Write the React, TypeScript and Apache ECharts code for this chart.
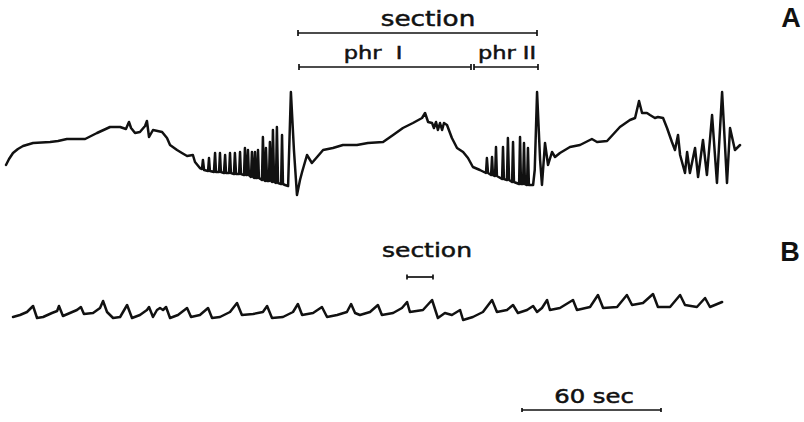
import React, { useEffect, useRef } from "react";
import * as echarts from "echarts";

// Trace A: [time (s), deflection (arbitrary units)]
const traceA: number[][] = [
  [0, 35], [1.3, 41], [3.0, 47], [5.1, 51], [7.3, 54], [11.6, 57], [18.9, 58], [22.3, 59],
  [26.1, 61], [33.9, 61], [39.0, 67], [44.6, 73], [48.9, 73], [51.4, 71], [52.7, 78], [53.6, 72],
  [55.3, 67], [57.4, 68], [59.6, 74], [60.4, 79], [61.3, 63], [63.0, 70], [66.9, 68], [69.0, 62],
  [70.3, 55], [73.3, 50], [75.4, 47], [77.6, 44], [80.1, 45], [81.0, 38], [83.1, 32],
  [84.0, 31], [84.4, 40], [84.9, 30], [86.6, 29], [87.0, 42], [87.4, 29],
  // first burst
  [89.1, 28], [89.6, 47], [90.0, 28], [91.3, 28], [91.7, 47], [92.1, 28], [93.4, 27], [93.9, 45],
  [94.3, 27], [95.6, 27], [96.0, 47], [96.4, 27], [97.7, 26], [98.1, 47], [98.6, 26], [99.9, 26],
  [100.3, 48], [100.7, 26], [102.0, 25], [102.4, 52], [102.9, 25], [103.3, 25], [103.7, 50], [104.1, 25],
  [105.0, 23], [105.4, 48], [105.9, 23], [106.3, 22], [106.7, 48], [107.1, 22], [107.6, 22], [108.0, 50],
  [108.4, 22], [109.7, 20], [110.1, 63], [110.6, 20], [111.0, 19], [111.4, 52], [111.9, 19], [112.7, 19],
  [113.1, 58], [113.6, 19], [114.0, 18], [114.4, 70], [114.9, 18], [115.7, 17], [116.1, 73], [116.6, 17],
  [117.9, 16], [118.3, 65], [118.7, 16], [119.6, 15], [120.9, 14], [122.1, 108], [123.4, 50], [124.7, 5],
  [126.0, 20], [126.9, 28], [129.0, 45], [131.1, 37], [133.7, 44], [135.9, 50], [140.1, 52], [144.4, 55],
  [150.4, 55], [155.1, 57], [161.6, 58], [165.9, 65], [170.1, 72], [174.4, 77], [178.3, 82], [179.6, 87],
  [180.9, 78], [182.6, 77], [183.4, 72], [184.3, 78], [185.1, 70], [186.0, 77], [186.9, 70], [187.7, 77],
  [189.0, 75], [191.1, 62], [193.3, 52], [195.9, 48], [198.0, 42], [200.1, 33], [203.1, 30],
  // second burst
  [205.7, 27], [206.1, 42], [206.6, 27], [207.9, 25], [208.3, 43], [208.7, 25], [209.6, 24], [210.0, 53],
  [210.4, 24], [212.6, 21], [213.0, 53], [213.4, 21], [214.7, 20], [215.1, 62], [215.6, 20], [216.9, 18],
  [217.3, 58], [217.7, 18], [219.9, 16], [220.3, 63], [220.7, 16], [221.6, 16], [222.0, 57], [222.4, 16],
  [223.3, 15], [223.7, 52], [224.1, 15], [225.9, 15], [226.6, 30], [227.6, 108], [228.9, 40], [229.7, 15],
  [231.0, 57], [232.3, 35], [234.0, 48], [235.3, 43], [237.4, 47], [241.7, 53], [246.0, 55], [251.1, 61],
  [253.3, 58], [257.6, 59], [263.1, 73], [267.4, 80], [269.6, 82], [271.3, 99], [272.6, 87], [274.7, 87],
  [276.0, 85], [278.1, 82], [279.4, 83], [281.6, 82], [283.3, 72], [285.4, 58], [286.7, 50], [288.0, 65],
  [288.9, 45], [291.0, 27], [291.9, 48], [293.1, 27], [295.3, 52], [296.6, 23], [298.7, 60], [300.4, 25],
  [302.6, 85], [304.7, 17], [306.9, 108], [309.0, 17], [310.3, 72], [312.4, 50], [314.6, 55],
];

// Trace B: [time (s), deflection (arbitrary units)]
const traceB: number[][] = [
  [3.0, 13], [6.0, 15], [9.0, 18], [11.6, 24], [13.3, 12], [15.9, 13], [19.7, 17], [21.9, 19],
  [22.7, 24], [24.4, 14], [27.4, 17], [30.4, 20], [32.1, 23], [33.4, 16], [37.3, 17], [40.3, 22],
  [41.6, 29], [43.3, 18], [45.9, 12], [48.9, 13], [51.9, 25], [54.0, 12], [57.4, 15], [60.4, 20],
  [61.3, 23], [63.0, 13], [64.7, 20], [66.0, 22], [67.3, 20], [68.6, 23], [70.3, 12], [73.7, 15],
  [77.6, 22], [79.3, 13], [83.1, 15], [86.6, 22], [88.3, 12], [91.7, 13], [96.0, 18], [99.0, 27],
  [101.1, 15], [105.9, 16], [110.1, 18], [111.9, 24], [114.0, 12], [118.7, 13], [123.0, 18], [125.1, 26],
  [126.9, 15], [131.6, 17], [135.4, 23], [137.6, 13], [141.9, 15], [146.1, 18], [147.9, 26], [149.6, 17],
  [151.7, 15], [156.0, 18], [159.4, 25], [161.1, 15], [165.9, 17], [169.7, 22], [171.9, 28], [173.1, 18],
  [178.7, 20], [182.6, 30], [185.1, 12], [188.1, 17], [191.1, 15], [194.6, 20], [195.9, 10], [200.1, 13],
  [204.4, 18], [208.3, 30], [210.4, 18], [214.7, 20], [217.3, 25], [219.4, 17], [223.3, 20], [225.9, 24],
  [227.6, 18], [229.7, 22], [231.9, 30], [233.1, 20], [237.4, 22], [243.0, 30], [244.7, 20], [250.3, 23],
  [253.7, 35], [255.9, 22], [261.9, 23], [266.1, 35], [268.3, 25], [273.0, 27], [277.3, 36], [279.4, 23],
  [284.6, 23], [288.9, 35], [291.0, 25], [296.1, 23], [299.6, 32], [301.7, 23], [306.9, 28],
];

const INK = "#111";
const LABEL_FONT = "DejaVu Sans";

function bracket(x1: number, x2: number, y: number, h: number) {
  const lineStyle = { stroke: INK, lineWidth: 1.7 };
  return [
    { type: "line", shape: { x1, y1: y, x2, y2: y }, style: lineStyle },
    { type: "line", shape: { x1, y1: y - h, x2: x1, y2: y + h }, style: lineStyle },
    { type: "line", shape: { x1: x2, y1: y - h, x2, y2: y + h }, style: lineStyle },
  ];
}

function label(text: string, x: number, y: number, size: number, sx: number, bold = false, family = LABEL_FONT) {
  return {
    type: "text",
    x,
    y,
    scaleX: sx,
    style: {
      text,
      fill: INK,
      stroke: bold ? undefined : INK,
      lineWidth: bold ? 0 : 0.5,
      font: `${bold ? "bold " : ""}${size}px "${family}"`,
      align: "center",
      verticalAlign: "middle",
    },
  };
}

export default function App() {
  const ref = useRef<HTMLDivElement>(null);
  useEffect(() => {
    if (!ref.current) return;
    const chart = echarts.init(ref.current, undefined, { renderer: "svg" });
    const lineStyle = { color: INK, width: 2.5, join: "round", cap: "round" };
    chart.setOption({
      animation: false,
      backgroundColor: "#fff",
      grid: [
        { left: 6, right: 0, top: 80, height: 120 },
        { left: 6, right: 0, top: 280, height: 50 },
      ],
      xAxis: [
        { type: "value", gridIndex: 0, min: 0, max: 342, show: false },
        { type: "value", gridIndex: 1, min: 0, max: 342, show: false },
      ],
      yAxis: [
        { type: "value", gridIndex: 0, min: 0, max: 120, show: false },
        { type: "value", gridIndex: 1, min: 0, max: 50, show: false },
      ],
      series: [
        { type: "line", name: "A", xAxisIndex: 0, yAxisIndex: 0, data: traceA, symbol: "none", lineStyle },
        { type: "line", name: "B", xAxisIndex: 1, yAxisIndex: 1, data: traceB, symbol: "none", lineStyle },
      ],
      graphic: [
        label("section", 428, 19, 21, 1.25),
        ...bracket(298, 537, 33, 3),
        label("phr  I", 373, 53, 18, 1.25),
        label("phr II", 507, 53, 18, 1.25),
        ...bracket(299, 471, 67, 3),
        ...bracket(474, 538, 67, 3),
        label("section", 427, 250, 20, 1.25),
        ...bracket(407, 433, 277, 2.5),
        label("A", 791, 18, 27, 1, true, "Liberation Sans"),
        label("B", 790, 252, 27, 1, true, "Liberation Sans"),
        label("60 sec", 594, 396, 19, 1.28),
        ...bracket(522, 661, 410, 2),
      ],
    });
    return () => chart.dispose();
  }, []);
  return (
    <div
      ref={ref}
      style={{ position: "fixed", left: 0, top: 0, width: 804, height: 422, background: "#fff" }}
    />
  );
}
